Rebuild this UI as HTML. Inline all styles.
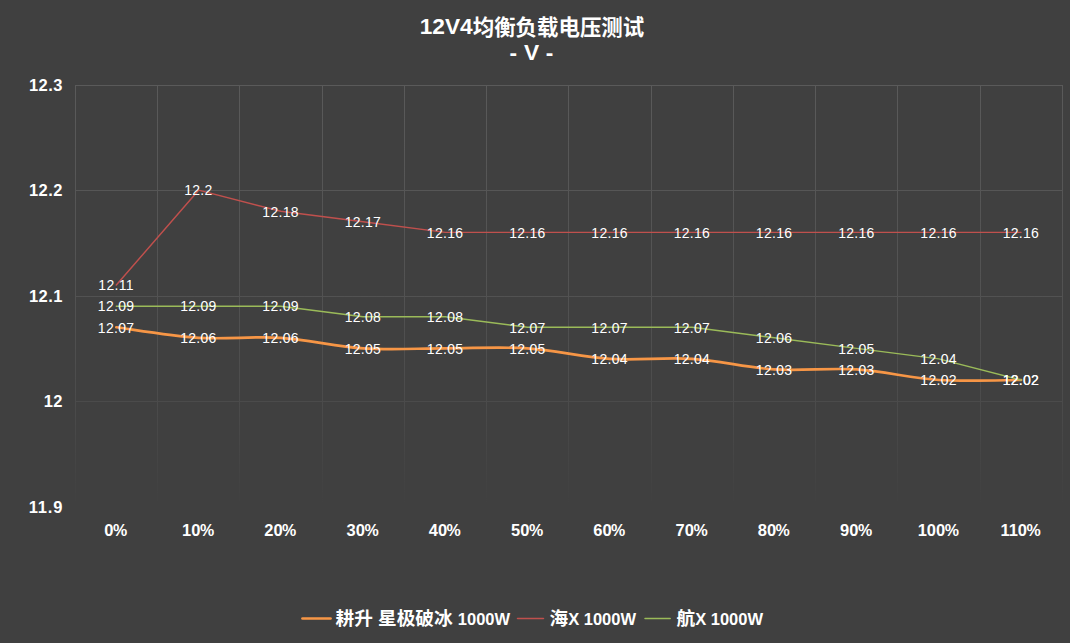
<!DOCTYPE html>
<html lang="zh-CN"><head><meta charset="utf-8"><title>12V4均衡负载电压测试</title>
<style>html,body{margin:0;padding:0;background:#404040;}body{width:1070px;height:643px;overflow:hidden;}svg{display:block;}text{font-family:"Liberation Sans", "Noto Sans CJK SC", sans-serif;fill:#fff;}
.t{font-weight:bold;font-size:21.45px;text-anchor:middle;}
.tl{font-size:22.7px;}
.ax{font-weight:bold;font-size:16.5px;letter-spacing:0.45px;}
.xl{letter-spacing:0;}
.pc{font-size:16px;}
.dl{font-size:14.0px;text-anchor:middle;letter-spacing:0.3px;}
.lg{font-weight:bold;font-size:18.67px;}
.lat{font-size:16.5px;}
</style></head><body>
<svg width="1070" height="643" viewBox="0 0 1070 643">
<defs><linearGradient id="gg" gradientUnits="userSpaceOnUse" x1="0" y1="85" x2="0" y2="507">
<stop offset="0" stop-color="#fff" stop-opacity="0.136"/>
<stop offset="0.25" stop-color="#fff" stop-opacity="0.115"/>
<stop offset="0.5" stop-color="#fff" stop-opacity="0.094"/>
<stop offset="0.75" stop-color="#fff" stop-opacity="0.058"/>
<stop offset="1" stop-color="#fff" stop-opacity="0"/>
</linearGradient></defs>
<rect width="1070" height="643" fill="#404040"/>
<path d="M75.5,85V507M157.5,85V507M239.5,85V507M322.5,85V507M404.5,85V507M486.5,85V507M568.5,85V507M651.5,85V507M733.5,85V507M815.5,85V507M897.5,85V507M980.5,85V507M1062.5,85V507M75,85.5H1063M75,190.5H1063M75,296.5H1063M75,401.5H1063M75,506.5H1063" stroke="url(#gg)" stroke-width="1" fill="none" shape-rendering="crispEdges"/>
<path d="M116.33,327.26 C130.03,329.01 171.16,336.04 198.57,337.80 C225.99,339.56 253.41,336.04 280.82,337.80 C308.24,339.56 335.66,346.59 363.07,348.35 C390.49,350.10 417.91,348.35 445.32,348.35 C472.74,348.35 500.16,346.59 527.58,348.35 C554.99,350.10 582.41,357.13 609.83,358.89 C637.24,360.65 664.66,357.13 692.08,358.89 C719.49,360.65 746.91,367.68 774.33,369.44 C801.74,371.19 829.16,367.68 856.58,369.44 C883.99,371.19 911.41,378.22 938.83,379.98 C966.24,381.74 1007.37,379.98 1021.08,379.98" fill="none" stroke="#F79646" stroke-width="2.67" stroke-linecap="round" stroke-linejoin="round"/>
<polyline points="116.33,285.08 198.57,190.17 280.82,211.26 363.07,221.81 445.32,232.35 527.58,232.35 609.83,232.35 692.08,232.35 774.33,232.35 856.58,232.35 938.83,232.35 1021.08,232.35" fill="none" stroke="#C0504D" stroke-width="1.45" stroke-linecap="round" stroke-linejoin="round"/>
<polyline points="116.33,306.17 198.57,306.17 280.82,306.17 363.07,316.71 445.32,316.71 527.58,327.26 609.83,327.26 692.08,327.26 774.33,337.80 856.58,348.35 938.83,358.89 1021.08,379.98" fill="none" stroke="#9BBB59" stroke-width="1.45" stroke-linecap="round" stroke-linejoin="round"/>
<text class="t" x="532" y="33.9"><tspan class="tl">12V4</tspan><tspan dy="1.4">均衡负载电压测试</tspan></text>
<text class="t tl" x="531.5" y="59.9" style="word-spacing:0.5px">- V -</text>
<text class="ax" text-anchor="end" x="62.9" y="91">12.3</text>
<text class="ax" text-anchor="end" x="62.9" y="196">12.2</text>
<text class="ax" text-anchor="end" x="62.9" y="302">12.1</text>
<text class="ax" text-anchor="end" x="62.9" y="407">12</text>
<text class="ax" text-anchor="end" x="63.3" y="513" style="letter-spacing:0.85px">11.9</text>
<text class="ax xl" text-anchor="middle" x="115.8" y="536.2">0<tspan class="pc" dx="-0.5">%</tspan></text>
<text class="ax xl" text-anchor="middle" x="198.1" y="536.2">10<tspan class="pc" dx="-0.5">%</tspan></text>
<text class="ax xl" text-anchor="middle" x="280.3" y="536.2">20<tspan class="pc" dx="-0.5">%</tspan></text>
<text class="ax xl" text-anchor="middle" x="362.6" y="536.2">30<tspan class="pc" dx="-0.5">%</tspan></text>
<text class="ax xl" text-anchor="middle" x="444.8" y="536.2">40<tspan class="pc" dx="-0.5">%</tspan></text>
<text class="ax xl" text-anchor="middle" x="527.1" y="536.2">50<tspan class="pc" dx="-0.5">%</tspan></text>
<text class="ax xl" text-anchor="middle" x="609.3" y="536.2">60<tspan class="pc" dx="-0.5">%</tspan></text>
<text class="ax xl" text-anchor="middle" x="691.6" y="536.2">70<tspan class="pc" dx="-0.5">%</tspan></text>
<text class="ax xl" text-anchor="middle" x="773.8" y="536.2">80<tspan class="pc" dx="-0.5">%</tspan></text>
<text class="ax xl" text-anchor="middle" x="856.1" y="536.2">90<tspan class="pc" dx="-0.5">%</tspan></text>
<text class="ax xl" text-anchor="middle" x="938.3" y="536.2">100<tspan class="pc" dx="-0.5">%</tspan></text>
<text class="ax xl" text-anchor="middle" x="1020.6" y="536.2">110<tspan class="pc" dx="-0.5">%</tspan></text>
<text class="dl" x="116.1" y="333.0">12.07</text>
<text class="dl" x="198.4" y="343.0">12.06</text>
<text class="dl" x="280.6" y="343.0">12.06</text>
<text class="dl" x="362.9" y="354.0">12.05</text>
<text class="dl" x="445.1" y="354.0">12.05</text>
<text class="dl" x="527.4" y="354.0">12.05</text>
<text class="dl" x="609.6" y="364.0">12.04</text>
<text class="dl" x="691.9" y="364.0">12.04</text>
<text class="dl" x="774.1" y="375.0">12.03</text>
<text class="dl" x="856.4" y="375.0">12.03</text>
<text class="dl" x="938.6" y="385.0">12.02</text>
<text class="dl" x="1020.9" y="385.0">12.02</text>
<text class="dl" x="116.1" y="290.0">12.11</text>
<text class="dl" x="198.4" y="195.0">12.2</text>
<text class="dl" x="280.6" y="217.0">12.18</text>
<text class="dl" x="362.9" y="227.0">12.17</text>
<text class="dl" x="445.1" y="238.0">12.16</text>
<text class="dl" x="527.4" y="238.0">12.16</text>
<text class="dl" x="609.6" y="238.0">12.16</text>
<text class="dl" x="691.9" y="238.0">12.16</text>
<text class="dl" x="774.1" y="238.0">12.16</text>
<text class="dl" x="856.4" y="238.0">12.16</text>
<text class="dl" x="938.6" y="238.0">12.16</text>
<text class="dl" x="1020.9" y="238.0">12.16</text>
<text class="dl" x="116.1" y="311.0">12.09</text>
<text class="dl" x="198.4" y="311.0">12.09</text>
<text class="dl" x="280.6" y="311.0">12.09</text>
<text class="dl" x="362.9" y="322.0">12.08</text>
<text class="dl" x="445.1" y="322.0">12.08</text>
<text class="dl" x="527.4" y="333.0">12.07</text>
<text class="dl" x="609.6" y="333.0">12.07</text>
<text class="dl" x="691.9" y="333.0">12.07</text>
<text class="dl" x="774.1" y="343.0">12.06</text>
<text class="dl" x="856.4" y="354.0">12.05</text>
<text class="dl" x="938.6" y="364.0">12.04</text>
<text class="dl" x="1020.9" y="385.0">12.02</text>
<path d="M302.5,618.5H330.5" stroke="#F79646" stroke-width="2.67" stroke-linecap="round"/>
<text class="lg" x="335.5" y="625">耕升 星极破冰 <tspan class="lat">1000W</tspan></text>
<path d="M517.5,618.5H543.5" stroke="#C0504D" stroke-width="1.45" stroke-linecap="round"/>
<text class="lg" x="549.5" y="625">海<tspan class="lat">X 1000W</tspan></text>
<path d="M645,618.5H670.2" stroke="#9BBB59" stroke-width="1.45" stroke-linecap="round"/>
<text class="lg" x="676.5" y="625">航<tspan class="lat">X 1000W</tspan></text>
</svg></body></html>
